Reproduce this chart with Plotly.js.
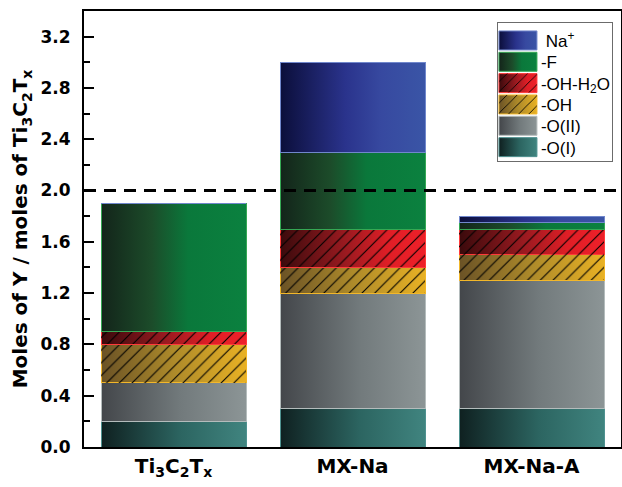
<!DOCTYPE html>
<html><head><meta charset="utf-8">
<script src="https://cdn.plot.ly/plotly-3.0.1.min.js"></script>
<style>html,body{margin:0;padding:0;background:#fff}</style>
</head><body><div id="chart" style="width:622px;height:487px"></div>
<script>
// ---- data ----
const categories = ['Ti<sub>3</sub>C<sub>2</sub>T<sub>x</sub>', 'MX-Na', 'MX-Na-A'];
const seriesNames = ['-O(I)', '-O(II)', '-OH', '-OH-H<sub>2</sub>O', '-F', ' Na<sup>+</sup>'];
const oI    = [0.2, 0.3, 0.3];
const oII   = [0.3, 0.9, 1.0];
const oh    = [0.3, 0.2, 0.2];
const ohH2O = [0.1, 0.3, 0.2];
const fl    = [1.0, 0.6, 0.05];
const na    = [0.0, 0.7, 0.05];
const referenceLevel = 2.0;
const seriesValues = [oI, oII, oh, ohH2O, fl, na];

// ---- styles ----
const styles = [
  {color:'#3f837e', line:'#4f9290', stops:[[0,'#0f2020'],[0.55,'#2c6561'],[1,'#40847f']]},
  {color:'#8a9393', line:'#b4bcbc', stops:[[0,'#43464a'],[0.55,'#727a7c'],[1,'#8c9596']]},
  {color:'#e6b024', line:'#f2b72a', hatch:true, stops:[[0,'#6a5226'],[0.5,'#ad8a2a'],[1,'#e8b124']]},
  {color:'#ec1c24', line:'#ff3a3a', hatch:true, stops:[[0,'#3a0a0c'],[0.45,'#9a1a20'],[0.75,'#e01e26'],[1,'#ee2029']]},
  {color:'#0b813f', line:'#35a854', stops:[[0,'#13241a'],[0.35,'#1c4c2a'],[0.6,'#0a783b'],[1,'#0b813f']]},
  {color:'#3a55a6', line:'#7087cc', stops:[[0,'#0b0e3a'],[0.45,'#2a338c'],[0.7,'#3749a0'],[1,'#3a55a6']]}
];
const axisFont = '"DejaVu Sans", Arial, sans-serif';

const traces = seriesValues.map((vals, i) => {
  const t = {
    type:'bar', x:categories, y:vals, name:seriesNames[i],
    marker:{color:styles[i].color, line:{color:styles[i].line, width:1}},
    hoverinfo:'skip'
  };
  if (styles[i].hatch) {
    t.marker.pattern = {shape:'/', fgcolor:'#000', bgcolor:'rgba(0,0,0,0)', size:9, solidity:0.12, fillmode:'replace'};
  }
  return t;
});

const layout = {
  width:622, height:487,
  margin:{l:84, r:1, t:11, b:40},
  barmode:'stack', bargap:0.19,
  plot_bgcolor:'#fff', paper_bgcolor:'#fff',
  font:{family:'Arial, "Liberation Sans", sans-serif', color:'#000'},
  showlegend:true,
  xaxis:{type:'category', range:[-0.5, 2.5], showline:true, linewidth:2, linecolor:'#000', mirror:true,
         ticks:'', showgrid:false, tickfont:{family:axisFont, size:20, weight:'bold'}},
  yaxis:{range:[0, 3.4], tick0:0, dtick:0.4, tickformat:'.1f', ticks:'inside', ticklen:10, tickwidth:2, tickcolor:'#000',
         showline:true, linewidth:2, linecolor:'#000', mirror:true, showgrid:false, zeroline:false,
         ticklabelstandoff:8,
         tickfont:{family:axisFont, size:17, weight:'bold'},
         title:{text:'Moles of Y / moles of Ti<sub>3</sub>C<sub>2</sub>T<sub>x</sub>', font:{family:axisFont, size:20, weight:'bold'}, standoff:7},
         minor:{dtick:0.2, ticks:'inside', ticklen:6, tickwidth:2, tickcolor:'#000', showgrid:false}},
  legend:{x:0.985, xanchor:'right', y:0.975, yanchor:'top', bordercolor:'#6b6b6b', borderwidth:1,
          bgcolor:'#fff', font:{size:17}, traceorder:'reversed', tracegroupgap:0},
  shapes:[{type:'line', xref:'paper', x0:0, x1:1, yref:'y', y0:referenceLevel, y1:referenceLevel,
           line:{dash:'12px,8px', width:3, color:'#000'}}]
};

const ns = 'http://www.w3.org/2000/svg';
function decorate(p, idx) {
  const orig = p.style.fill;
  p.style.fill = 'url(#grad' + idx + ')';
  if (styles[idx].hatch) {
    const c = p.cloneNode(true);
    c.style.fill = orig;
    c.style.stroke = 'none';
    p.parentNode.insertBefore(c, p.nextSibling);
  }
}
function compactLegend(gd, k) {
  const items = Array.from(gd.querySelectorAll('.legend .traces'));
  if (!items.length) return;
  const pos = items.map(el => {
    const m = /translate\(\s*([-\d.]+)[ ,]+([-\d.]+)\s*\)/.exec(el.getAttribute('transform') || '');
    return m ? [parseFloat(m[1]), parseFloat(m[2])] : [0, 0];
  });
  const y0 = pos[0][1];
  let shrink = 0;
  items.forEach((el, i) => {
    const ny = y0 + (pos[i][1] - y0) * k;
    shrink = pos[i][1] - ny;
    el.setAttribute('transform', 'translate(' + pos[i][0] + ',' + ny + ')');
  });
  const bg = gd.querySelector('.legend rect.bg');
  if (bg) bg.setAttribute('height', parseFloat(bg.getAttribute('height')) - shrink - 4);
}
function applyGradients(gd) {
  const svg = gd.querySelector('svg.main-svg');
  let defs = svg.querySelector('defs');
  if (!defs) { defs = document.createElementNS(ns, 'defs'); svg.insertBefore(defs, svg.firstChild); }
  styles.forEach((s, i) => {
    const g = document.createElementNS(ns, 'linearGradient');
    g.setAttribute('id', 'grad' + i);
    g.setAttribute('x1', '0'); g.setAttribute('y1', '0'); g.setAttribute('x2', '1'); g.setAttribute('y2', '0');
    s.stops.forEach(([o, c]) => {
      const st = document.createElementNS(ns, 'stop');
      st.setAttribute('offset', o); st.setAttribute('stop-color', c);
      g.appendChild(st);
    });
    defs.appendChild(g);
  });
  gd.querySelectorAll('.barlayer .trace.bars').forEach(tr => {
    const idx = tr.__data__[0].trace.index;
    tr.querySelectorAll('.point path').forEach(p => decorate(p, idx));
  });
  gd.querySelectorAll('.legend .traces').forEach(tr => {
    const idx = tr.__data__[0].trace.index;
    const p = tr.querySelector('.legendpoints path');
    if (!p) return;
    p.setAttribute('d', 'M19,9.5H-19V-9.5H19Z');
    decorate(p, idx);
    const tx = tr.querySelector('text.legendtext');
    if (tx) tx.setAttribute('x', parseFloat(tx.getAttribute('x') || 40) + 3);
  });
  compactLegend(gd, 0.85);
}

Plotly.newPlot('chart', traces, layout, {staticPlot:true, displayModeBar:false}).then(applyGradients);
</script></body></html>
